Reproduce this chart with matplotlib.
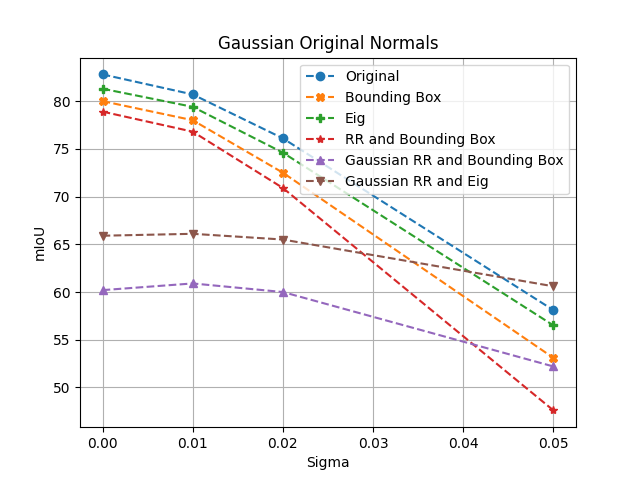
import matplotlib
import matplotlib.pyplot as plt

matplotlib.use("agg")

sigma = [0.0, 0.01, 0.02, 0.05]

original = [82.8, 80.7, 76.1, 58.1]
bounding_box = [80.0, 78.0, 72.5, 53.1]
eig = [81.3, 79.4, 74.6, 56.5]
rr_bb = [78.9, 76.8, 70.9, 47.6]
gauss_rr_bb = [60.2, 60.9, 60.0, 52.2]
gauss_rr_eig = [65.9, 66.1, 65.5, 60.6]

fig, ax = plt.subplots(figsize=(6.4, 4.8), dpi=100)
ax.plot(sigma, original, "o--", label="Original")
ax.plot(sigma, bounding_box, "X--", label="Bounding Box")
ax.plot(sigma, eig, "P--", label="Eig")
ax.plot(sigma, rr_bb, "*--", label="RR and Bounding Box")
ax.plot(sigma, gauss_rr_bb, "^--", label="Gaussian RR and Bounding Box")
ax.plot(sigma, gauss_rr_eig, "v--", label="Gaussian RR and Eig")
ax.set_title("Gaussian Original Normals")
ax.set_xlabel("Sigma")
ax.set_ylabel("mIoU")
ax.grid(True)
ax.legend(loc="upper right")

plt.savefig("out.png", dpi=100)
plt.close(fig)
